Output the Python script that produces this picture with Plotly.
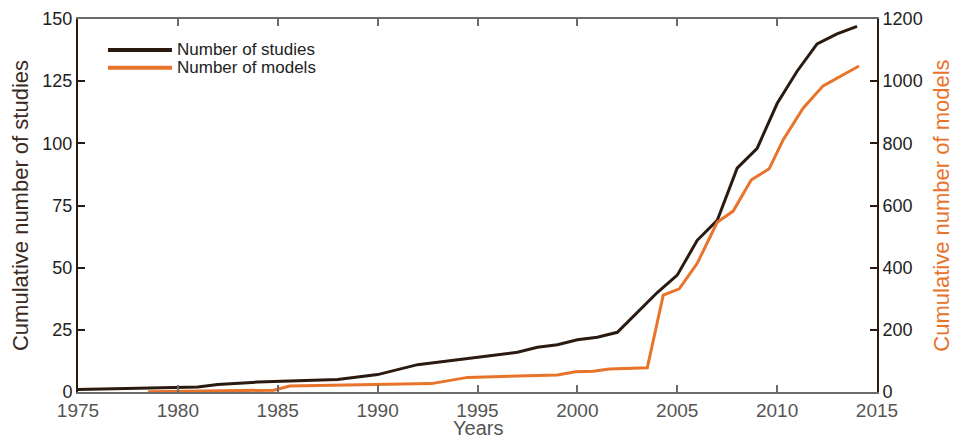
import plotly.graph_objects as go

# Cumulative number of studies per year
study_years = [1975, 1981, 1982, 1984, 1988, 1990, 1992, 1997, 1998, 1999, 2000,
               2001, 2002, 2004, 2005, 2006, 2007, 2008, 2009, 2010, 2011, 2012,
               2013, 2014]
study_counts = [1, 2, 3, 4, 5, 7, 11, 16, 18, 19, 21,
                22, 24, 40, 47, 61, 69, 90, 98, 116, 129, 140,
                144, 147]

# Cumulative number of models
model_years = [1978.5, 1984.8, 1985.6, 1988.0, 1992.7, 1994.5, 1999.0, 1999.9,
               2000.8, 2001.6, 2003.5, 2004.3, 2005.1, 2006.0, 2007.0, 2007.8,
               2008.7, 2009.6, 2010.3, 2011.3, 2012.3, 2014.1]
model_counts = [1, 6, 19, 22, 27, 47, 55, 65,
                67, 74, 78, 312, 332, 414, 546, 582,
                682, 718, 811, 913, 985, 1049]

series_names = ["Number of studies", "Number of models"]

BLACK = "#2a1a10"
ORANGE = "#e8732a"
FONT = "Liberation Sans, Arial, sans-serif"

fig = go.Figure()
fig.add_trace(go.Scatter(x=study_years, y=study_counts, mode="lines",
                         name=series_names[0], showlegend=False,
                         line=dict(color=BLACK, width=3)))
fig.add_trace(go.Scatter(x=model_years, y=model_counts, mode="lines",
                         name=series_names[1], yaxis="y2", showlegend=False,
                         line=dict(color=ORANGE, width=3)))

# Legend: long line samples with labels, upper-left inside the axes
legend_rows = [(series_names[0], BLACK, 0.917), (series_names[1], ORANGE, 0.869)]
for label, colour, ypos in legend_rows:
    fig.add_shape(type="line", xref="paper", yref="paper",
                  x0=0.0375, x1=0.1176, y0=ypos, y1=ypos,
                  line=dict(color=colour, width=4))
    fig.add_annotation(xref="paper", yref="paper", x=0.1215, y=ypos,
                       xanchor="left", yanchor="middle", showarrow=False,
                       text=label, font=dict(size=17, color="#222"))

# x-axis title, placed just under the tick labels
fig.add_annotation(xref="paper", yref="paper", x=0.5, y=-0.097,
                   xanchor="center", yanchor="middle", showarrow=False,
                   text="Years", font=dict(size=20, color="#555"))

fig.update_layout(
    width=956, height=440,
    margin=dict(l=78, r=79, t=19, b=48),
    paper_bgcolor="white", plot_bgcolor="white",
    font=dict(family=FONT, size=18, color="#222"),
    showlegend=False,
    xaxis=dict(range=[1975, 2015], dtick=5, tick0=1975, automargin=False,
               showgrid=False, zeroline=False,
               showline=True, linecolor="#6b6b6b", linewidth=2,
               mirror="ticks", ticks="inside", ticklen=7, tickwidth=2,
               tickcolor="#6b6b6b",
               tickfont=dict(size=19, color="#555")),
    yaxis=dict(range=[0, 150], dtick=25, automargin=False,
               showgrid=False, zeroline=False,
               showline=True, linecolor=BLACK, linewidth=2,
               ticks="inside", ticklen=7, tickwidth=2, tickcolor=BLACK,
               tickfont=dict(size=18, color="#222"),
               title=dict(text="Cumulative number of studies", standoff=8,
                          font=dict(size=22, color="#3b2a1e"))),
    yaxis2=dict(range=[0, 1200], dtick=200, overlaying="y", side="right",
                automargin=False, showgrid=False, zeroline=False,
                showline=True, linecolor=BLACK, linewidth=2,
                ticks="inside", ticklen=7, tickwidth=2, tickcolor=BLACK,
                tickfont=dict(size=18, color="#222"),
                title=dict(text="Cumulative number of models", standoff=12,
                           font=dict(size=22, color=ORANGE))),
)

fig.write_html("out.html")
